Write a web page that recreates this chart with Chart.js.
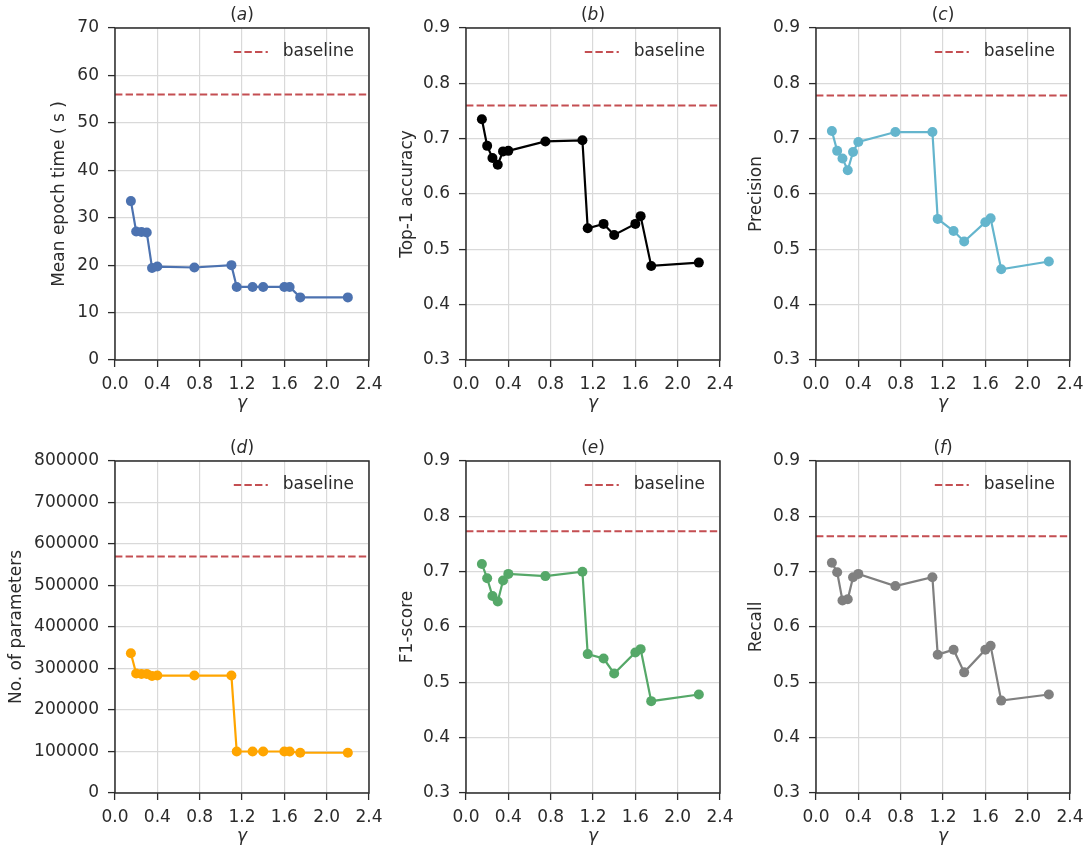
<!DOCTYPE html>
<html>
<head>
<meta charset="utf-8">
<script src="https://cdn.jsdelivr.net/npm/chart.js@4/dist/chart.umd.min.js"></script>
<style>
  body { margin: 0; background: #fff; }
  #wrap { position: relative; width: 1084px; height: 852px; overflow: hidden; }
  .panel { position: absolute; width: 383px; height: 415px; }
</style>
</head>
<body>
<div id="wrap">
  <div class="panel" style="left:0;top:0"><canvas id="pa"></canvas></div>
  <div class="panel" style="left:351px;top:0"><canvas id="pb"></canvas></div>
  <div class="panel" style="left:701px;top:0"><canvas id="pc"></canvas></div>
  <div class="panel" style="left:0;top:433px"><canvas id="pd"></canvas></div>
  <div class="panel" style="left:351px;top:433px"><canvas id="pe"></canvas></div>
  <div class="panel" style="left:701px;top:433px"><canvas id="pf"></canvas></div>
</div>
<script>
// ========================================
// DATA
// ========================================
const gamma = [0.15, 0.2, 0.25, 0.3, 0.35, 0.4, 0.75, 1.1, 1.15, 1.3, 1.4, 1.6, 1.65, 1.75, 2.2];

const epochTime = [33.5, 27.1, 27.0, 26.9, 19.4, 19.7, 19.5, 20.0, 15.4, 15.4, 15.4, 15.4, 15.4, 13.2, 13.2];
const top1 = [0.735, 0.687, 0.665, 0.653, 0.677, 0.678, 0.695, 0.697, 0.538, 0.546, 0.526, 0.546, 0.560, 0.470, 0.476];
const precision = [0.714, 0.678, 0.664, 0.643, 0.676, 0.694, 0.712, 0.712, 0.555, 0.533, 0.514, 0.549, 0.556, 0.464, 0.478];
const params = [336800, 288000, 287000, 287000, 282000, 283000, 283000, 283000, 100000, 100000, 100000, 100000, 100000, 97000, 97000];
const f1 = [0.714, 0.688, 0.656, 0.646, 0.684, 0.696, 0.692, 0.700, 0.551, 0.543, 0.516, 0.554, 0.560, 0.466, 0.478];
const recall = [0.716, 0.699, 0.648, 0.650, 0.690, 0.696, 0.674, 0.690, 0.550, 0.559, 0.518, 0.559, 0.566, 0.467, 0.478];

const baselines = { a: 56, b: 0.76, c: 0.778, d: 570000, e: 0.773, f: 0.764 };

// tick labels
const xTicks = [0.0, 0.4, 0.8, 1.2, 1.6, 2.0, 2.4];
const timeTicks = [0, 10, 20, 30, 40, 50, 60, 70];
const scoreTicks = [0.3, 0.4, 0.5, 0.6, 0.7, 0.8, 0.9];
const paramTicks = [0, 100000, 200000, 300000, 400000, 500000, 600000, 700000, 800000];

const xRange = [0, 2.4];

// ========================================
// STYLE
// ========================================
const INK = '#2b2b2b';
const GRID = '#d9d9d9';
const FONT = 'DejaVu Sans';
const FS = 17;
const BASE_RED = '#C44E52';

// ========================================
// PLUGINS: frame, panel letter, legend
// ========================================
const framePlugin = {
    id: 'frame',
    afterDraw(chart) {
        const { ctx, chartArea: a } = chart;
        ctx.save();
        ctx.strokeStyle = INK;
        ctx.lineWidth = 1.5;
        ctx.strokeRect(a.left, a.top, a.right - a.left, a.bottom - a.top);
        ctx.restore();
    }
};

const letterPlugin = {
    id: 'letter',
    afterDraw(chart, args, opts) {
        const { ctx, chartArea: a } = chart;
        const normal = `${FS}px "${FONT}"`;
        const italic = `italic ${FS}px "${FONT}"`;
        ctx.save();
        ctx.fillStyle = INK;
        ctx.textBaseline = 'middle';
        ctx.font = normal;
        const wp = ctx.measureText('(').width;
        const wq = ctx.measureText(')').width;
        ctx.font = italic;
        const wl = ctx.measureText(opts.text).width;
        let x = (a.left + a.right) / 2 - (wp + wl + wq) / 2;
        const y = a.top - 12;
        ctx.font = normal;
        ctx.fillText('(', x, y);
        x += wp;
        ctx.font = italic;
        ctx.fillText(opts.text, x, y);
        x += wl;
        ctx.font = normal;
        ctx.fillText(')', x, y);
        ctx.restore();
    }
};

const baselineLegend = {
    id: 'baselineLegend',
    afterDraw(chart) {
        const ds = chart.data.datasets.find(d => d.label === 'baseline');
        if (!ds) return;
        const { ctx, chartArea: a } = chart;
        ctx.save();
        ctx.font = `${FS}px "${FONT}"`;
        const tw = ctx.measureText(ds.label).width;
        const y = a.top + 24;
        const textX = a.right - 15 - tw;
        const lineEnd = textX - 15;
        ctx.strokeStyle = ds.borderColor;
        ctx.lineWidth = ds.borderWidth;
        ctx.setLineDash(ds.borderDash);
        ctx.beginPath();
        ctx.moveTo(lineEnd - 34, y);
        ctx.lineTo(lineEnd, y);
        ctx.stroke();
        ctx.setLineDash([]);
        ctx.fillStyle = INK;
        ctx.textBaseline = 'middle';
        ctx.fillText(ds.label, textX, y);
        ctx.restore();
    }
};

// ========================================
// PANEL BUILDER
// ========================================
function makePanel(id, letter, values, color, baseline, yTicks, yLabel, yTitleX, fmt) {
    const series = gamma.map((g, i) => ({ x: g, y: values[i] }));
    const base = xRange.map(x => ({ x: x, y: baseline }));

    new Chart(document.getElementById(id), {
        type: 'line',
        data: {
            datasets: [
                {
                    label: 'series',
                    data: series,
                    borderColor: color,
                    backgroundColor: color,
                    borderWidth: 2.2,
                    pointRadius: 5,
                    pointBorderWidth: 0,
                    pointBackgroundColor: color,
                    tension: 0
                },
                {
                    label: 'baseline',
                    data: base,
                    borderColor: BASE_RED,
                    borderWidth: 2,
                    borderDash: [7.4, 3.2],
                    pointRadius: 0,
                    tension: 0
                }
            ]
        },
        options: {
            responsive: true,
            maintainAspectRatio: false,
            animation: false,
            events: [],
            layout: { padding: { top: 28, left: 0, right: 14, bottom: 0 } },
            plugins: {
                legend: { display: false },
                tooltip: { enabled: false },
                letter: { text: letter }
            },
            scales: {
                x: {
                    type: 'linear',
                    min: xRange[0],
                    max: xRange[1],
                    afterBuildTicks: s => { s.ticks = xTicks.map(v => ({ value: v })); },
                    afterFit: s => { s.height = 55; s.paddingLeft = 0; s.paddingRight = 0; },
                    ticks: {
                        color: INK,
                        padding: 7,
                        maxRotation: 0,
                        autoSkip: false,
                        font: { family: FONT, size: FS },
                        callback: v => Number(v).toFixed(1)
                    },
                    grid: { color: GRID, lineWidth: 1.2, tickColor: INK, tickLength: 7, tickWidth: 1.3 },
                    border: { display: false },
                    title: {
                        display: true,
                        text: 'γ',
                        color: INK,
                        padding: { top: 0, bottom: 1 },
                        font: { family: FONT, size: FS, style: 'italic' }
                    }
                },
                y: {
                    type: 'linear',
                    min: yTicks[0],
                    max: yTicks[yTicks.length - 1],
                    afterBuildTicks: s => { s.ticks = yTicks.map(v => ({ value: v })); },
                    afterFit: s => { s.width = 115; s.paddingTop = 0; s.paddingBottom = 0; },
                    ticks: {
                        color: INK,
                        padding: 9,
                        autoSkip: false,
                        font: { family: FONT, size: FS },
                        callback: fmt
                    },
                    grid: { color: GRID, lineWidth: 1.2, tickColor: INK, tickLength: 7, tickWidth: 1.3 },
                    border: { display: false },
                    title: {
                        display: true,
                        text: yLabel,
                        color: INK,
                        padding: { top: yTitleX - 10.2, bottom: 0 },
                        font: { family: FONT, size: FS }
                    }
                }
            }
        },
        plugins: [framePlugin, letterPlugin, baselineLegend]
    });
}

const intFmt = v => String(Math.round(v));
const decFmt = v => Number(v).toFixed(1);

makePanel('pa', 'a', epochTime, '#4C72B0', baselines.a, timeTicks, 'Mean epoch time ( s )', 60, intFmt);
makePanel('pb', 'b', top1, '#000000', baselines.b, scoreTicks, 'Top-1 accuracy', 57, decFmt);
makePanel('pc', 'c', precision, '#64B5CD', baselines.c, scoreTicks, 'Precision', 56, decFmt);
makePanel('pd', 'd', params, '#FFA500', baselines.d, paramTicks, 'No. of parameters', 17, intFmt);
makePanel('pe', 'e', f1, '#55A868', baselines.e, scoreTicks, 'F1-score', 57, decFmt);
makePanel('pf', 'f', recall, '#808080', baselines.f, scoreTicks, 'Recall', 56, decFmt);
</script>
</body>
</html>
